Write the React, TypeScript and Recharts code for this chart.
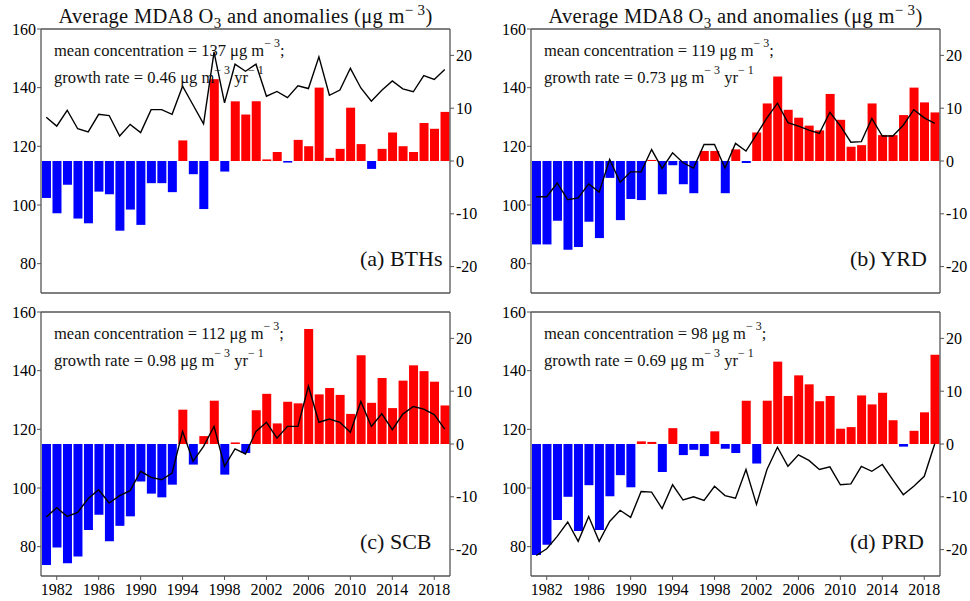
import { ComposedChart, Bar, Line, XAxis, YAxis, Cell, ReferenceLine } from 'recharts'

const years = [
  1981, 1982, 1983, 1984, 1985, 1986, 1987, 1988, 1989, 1990,
  1991, 1992, 1993, 1994, 1995, 1996, 1997, 1998, 1999, 2000,
  2001, 2002, 2003, 2004, 2005, 2006, 2007, 2008, 2009, 2010,
  2011, 2012, 2013, 2014, 2015, 2016, 2017, 2018, 2019,
]
const xTicks = [1982, 1986, 1990, 1994, 1998, 2002, 2006, 2010, 2014, 2018]
const leftTicks = [80, 100, 120, 140, 160]
const rightTicks = [-20, -10, 0, 10, 20]

// anomalies (right axis) and average MDA8 O3 (left axis)
const bthsAnom = [
  -7.0, -9.9, -4.5, -10.9, -11.8, -5.8, -6.3, -13.2, -9.2, -12.1,
  -4.2, -4.2, -5.9, 3.9, -2.5, -9.1, 15.5, -2.0, 11.3, 8.8,
  11.3, 0.3, 1.7, -0.3, 4.0, 2.8, 13.9, 0.6, 2.3, 10.1,
  3.2, -1.5, 2.3, 5.4, 2.8, 1.7, 7.2, 6.1, 9.3,
]
const bthsConc = [
  129.9, 126.9, 132.3, 126.0, 124.9, 130.9, 130.5, 123.5, 127.5, 124.7,
  132.5, 132.5, 130.9, 140.5, 134.1, 127.7, 152.1, 134.8, 148.0, 145.6,
  148.0, 137.1, 138.7, 136.6, 140.6, 139.7, 150.5, 137.4, 139.2, 146.6,
  139.9, 135.4, 139.1, 142.3, 139.6, 138.6, 144.1, 142.8, 146.2,
]

const yrdAnom = [
  -15.8, -15.8, -11.3, -16.8, -16.3, -11.5, -14.6, -3.2, -11.2, -7.2,
  -7.4, 0.2, -6.3, -0.8, -4.4, -6.1, 1.9, 1.9, -6.1, 2.2,
  -0.4, 5.4, 10.9, 16.0, 9.7, 8.2, 6.7, 5.8, 12.7, 7.8,
  2.7, 3.0, 10.9, 4.9, 4.9, 8.7, 13.9, 11.1, 9.2,
]
const yrdConc = [
  102.8, 102.8, 107.5, 101.8, 102.4, 107.2, 104.4, 115.5, 107.7, 111.3,
  111.3, 118.9, 112.5, 117.8, 114.4, 112.6, 120.6, 120.6, 112.6, 121.0,
  118.4, 124.0, 129.7, 134.7, 128.1, 126.9, 125.5, 124.4, 131.6, 127.0,
  121.4, 121.6, 129.5, 123.5, 123.5, 127.2, 132.5, 129.7, 127.8,
]

const scbAnom = [
  -22.9, -19.6, -22.6, -21.3, -16.3, -13.4, -18.4, -15.5, -13.7, -7.1,
  -9.4, -10.1, -7.7, 6.5, -3.9, 1.5, 8.2, -5.8, 0.3, -1.7,
  6.4, 9.5, 3.9, 8.0, 7.7, 21.8, 9.4, 10.6, 9.3, 5.7,
  16.8, 7.8, 12.5, 6.8, 12.0, 14.9, 13.8, 11.8, 7.3,
]
const scbConc = [
  90.1, 93.3, 90.3, 91.7, 96.4, 99.4, 94.9, 97.4, 99.1, 105.7,
  103.6, 102.8, 105.1, 119.3, 109.1, 114.2, 121.0, 107.4, 113.3, 111.6,
  119.3, 122.4, 117.0, 121.0, 121.0, 134.7, 122.4, 123.5, 122.4, 119.0,
  129.5, 121.0, 125.3, 119.9, 125.2, 127.8, 126.9, 125.0, 120.1,
]

const prdAnom = [
  -21.0, -19.1, -14.4, -10.0, -16.5, -7.8, -16.3, -9.9, -5.9, -8.2,
  0.5, 0.4, -5.3, 3.0, -2.1, -1.1, -2.3, 2.4, -0.9, -1.7,
  8.2, -3.7, 8.2, 15.6, 9.1, 13.0, 11.3, 8.1, 9.1, 2.9,
  3.2, 9.2, 7.5, 9.7, 4.5, -0.5, 2.5, 6.0, 16.9,
]
const prdConc = [
  77.0, 79.3, 83.5, 88.4, 81.8, 90.3, 81.8, 88.6, 92.4, 90.0,
  98.8, 98.6, 93.0, 101.1, 95.9, 97.0, 95.8, 100.6, 97.4, 96.5,
  106.3, 94.4, 106.3, 113.9, 107.4, 111.3, 109.4, 106.3, 107.2, 101.1,
  101.4, 107.4, 105.7, 108.0, 102.8, 97.7, 100.6, 104.0, 115.1,
]

const FONT = '"Liberation Serif", "Times New Roman", serif'
const FRAME = '#555'

const supStyle = (size: number, raise = '-0.75em') => ({
  fontSize: size,
  position: 'relative' as const,
  top: raise,
  verticalAlign: 'baseline',
  lineHeight: 0,
})
const subStyle = (size: number) => ({
  fontSize: size,
  position: 'relative' as const,
  top: '0.3em',
  verticalAlign: 'baseline',
  lineHeight: 0,
})

type PanelProps = {
  anom: number[]
  conc: number[]
  left: number
  top: number
  bottomAxis: boolean
  mean: string
  rate: string
  label: string
}

function Panel({ anom, conc, left, top, bottomAxis, mean, rate, label }: PanelProps) {
  const data = years.map((y, i) => ({ year: y, anom: anom[i], conc: conc[i] }))
  const height = bottomAxis ? 311 : 300
  const marginTop = bottomAxis ? 22 : 29
  const plotTop = top + marginTop

  return (
    <>
      <div style={{ position: 'absolute', left, top }}>
        <ComposedChart
          width={480}
          height={height}
          data={data}
          margin={{ top: marginTop, right: 0, left: 5, bottom: bottomAxis ? 0 : 6 }}
          barSize={9}
        >
          <XAxis
            dataKey="year"
            ticks={bottomAxis ? xTicks : []}
            interval={0}
            tick={bottomAxis ? { fontSize: 16, fill: '#000' } : false}
            tickLine={bottomAxis ? { stroke: FRAME } : false}
            tickSize={4}
            tickMargin={4}
            height={bottomAxis ? 25 : 1}
            axisLine={{ stroke: FRAME, strokeWidth: 1.3 }}
          />
          <YAxis
            yAxisId="left"
            domain={[70, 160]}
            ticks={leftTicks}
            allowDataOverflow
            width={36}
            tick={{ fontSize: 16, fill: '#000' }}
            tickLine={{ stroke: FRAME }}
            tickSize={4}
            tickMargin={1}
            axisLine={{ stroke: FRAME, strokeWidth: 1.3 }}
          />
          <YAxis
            yAxisId="right"
            orientation="right"
            domain={[-25, 25]}
            ticks={rightTicks}
            allowDataOverflow
            width={30}
            tick={{ fontSize: 16, fill: '#000' }}
            tickLine={{ stroke: FRAME }}
            tickSize={4}
            tickMargin={2}
            axisLine={{ stroke: FRAME, strokeWidth: 1.3 }}
          />
          <ReferenceLine yAxisId="left" y={160} stroke={FRAME} strokeWidth={1.3} />
          <Bar dataKey="anom" yAxisId="right" isAnimationActive={false}>
            {data.map((d) => (
              <Cell key={d.year} fill={d.anom >= 0 ? '#ff0000' : '#0000ff'} />
            ))}
          </Bar>
          <Line
            dataKey="conc"
            yAxisId="left"
            type="linear"
            stroke="#000"
            strokeWidth={1.4}
            dot={false}
            isAnimationActive={false}
          />
        </ComposedChart>
      </div>
      <div
        style={{
          position: 'absolute',
          left: left + 54,
          top: plotTop + 8,
          fontSize: 16.5,
          lineHeight: '27px',
          whiteSpace: 'nowrap',
          color: '#111',
        }}
      >
        <div>
          mean concentration = {mean} μg m<span style={supStyle(12)}>− 3</span>;
        </div>
        <div>
          growth rate = {rate} μg m<span style={supStyle(12)}>− 3</span> yr<span style={supStyle(12)}>− 1</span>
        </div>
      </div>
      <div
        style={{
          position: 'absolute',
          left: left + 41 + 319,
          top: plotTop + 218,
          fontSize: 22,
          lineHeight: '24px',
          whiteSpace: 'nowrap',
          color: '#111',
        }}
      >
        {label}
      </div>
    </>
  )
}

function Title({ left }: { left: number }) {
  return (
    <div
      style={{
        position: 'absolute',
        left: left + 41,
        width: 409,
        top: 5,
        textAlign: 'center',
        fontSize: 20.5,
        lineHeight: '22px',
        letterSpacing: 0.3,
        whiteSpace: 'nowrap',
        color: '#111',
      }}
    >
      Average MDA8 O<span style={subStyle(15)}>3</span> and anomalies (μg m
      <span style={supStyle(15, '-0.55em')}>− 3</span>)
    </div>
  )
}

export default function App() {
  return (
    <div
      style={{
        position: 'absolute',
        left: 0,
        top: 0,
        width: 970,
        height: 601,
        background: '#fff',
        fontFamily: FONT,
        overflow: 'hidden',
      }}
    >
      <Title left={0} />
      <Title left={490} />
      <Panel anom={bthsAnom} conc={bthsConc} left={0} top={0} bottomAxis={false} mean="137" rate="0.46" label="(a) BTHs" />
      <Panel anom={yrdAnom} conc={yrdConc} left={490} top={0} bottomAxis={false} mean="119" rate="0.73" label="(b) YRD" />
      <Panel anom={scbAnom} conc={scbConc} left={0} top={290} bottomAxis mean="112" rate="0.98" label="(c) SCB" />
      <Panel anom={prdAnom} conc={prdConc} left={490} top={290} bottomAxis mean="98" rate="0.69" label="(d) PRD" />
    </div>
  )
}
